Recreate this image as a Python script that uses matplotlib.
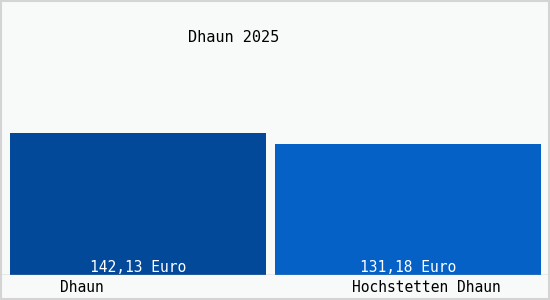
import matplotlib
matplotlib.use("Agg")
import matplotlib.pyplot as plt
from matplotlib.patches import Rectangle
import matplotlib.transforms as mtransforms

categories = ["Dhaun", "Hochstetten Dhaun"]
values = [142.13, 131.18]
value_labels = ["142,13 Euro", "131,18 Euro"]
title = "Dhaun 2025"

bar_colors = ["#03499a", "#0561c5"]
bar_widths = [0.945, 0.985]
label_offsets = [-0.207, 0.067]
bg = "#f8f9f9"
font = "DejaVu Sans Mono"

fig = plt.figure(figsize=(5.5, 3.0), dpi=100)
fig.patch.set_facecolor(bg)
ax = fig.add_axes([0, 25 / 300, 1, 275 / 300])
ax.set_facecolor(bg)
pos = list(range(len(categories)))
ax.bar(pos, values, width=bar_widths, color=bar_colors, align="center", zorder=2)
ax.set_xlim(-0.511, 1.526)
ax.set_ylim(0, 275)
ax.axis("off")
ax.axhline(0, color="#a8a8a8", lw=1, zorder=3)

for p, lab in zip(pos, value_labels):
    ax.text(p, 7, lab, ha="center", va="center", color="white",
            fontsize=10.5, family=font, zorder=4)

trans = mtransforms.blended_transform_factory(ax.transData, fig.transFigure)
for p, c, off in zip(pos, categories, label_offsets):
    ax.text(p + off, 12 / 300, c, ha="center", va="center", color="black",
            fontsize=10.5, family=font, transform=trans)

fig.text(234 / 550, 1 - 38 / 300, title, ha="center", va="center",
         fontsize=11, family=font, color="black")

fig.patches.append(Rectangle((0.001, 0.002), 0.997, 0.995, transform=fig.transFigure,
                             fill=False, edgecolor="#d4d4d4", lw=1.5))

fig.savefig("out.png", dpi=100, facecolor=bg)
